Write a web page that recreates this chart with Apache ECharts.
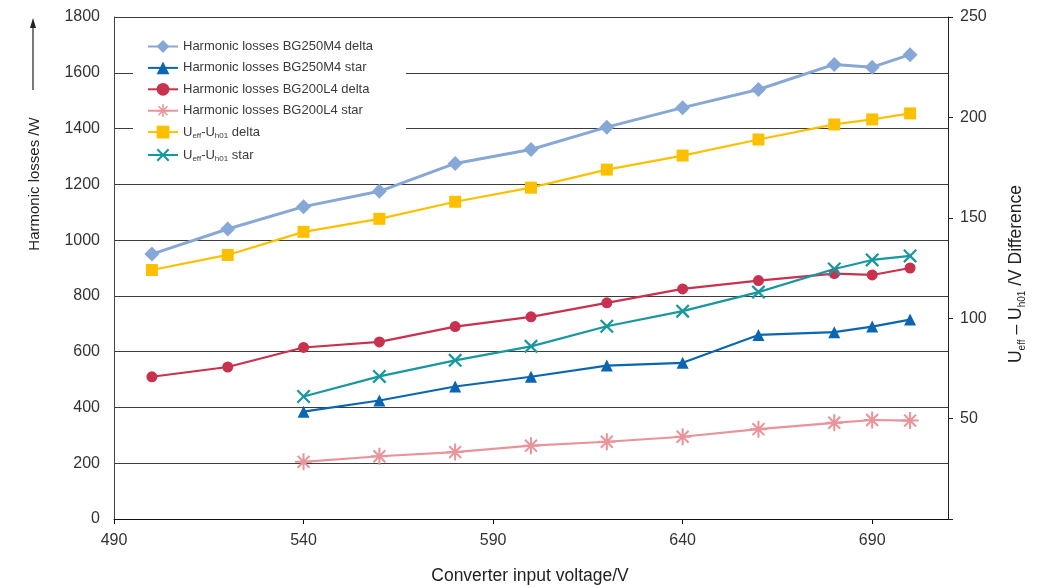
<!DOCTYPE html>
<html>
<head>
<meta charset="utf-8">
<script src="https://cdn.jsdelivr.net/npm/echarts@6/dist/echarts.min.js"></script>
<style>
  html, body { margin: 0; padding: 0; background: #fff; }
  #chart { width: 1040px; height: 588px; }
</style>
</head>
<body>
<div id="chart"></div>
<script>
// Converter input voltage (V) at which each curve was measured
const voltagesDelta = [500, 520, 540, 560, 580, 600, 620, 640, 660, 680, 690, 700];
const voltagesStar = [540, 560, 580, 600, 620, 640, 660, 680, 690, 700];

// Harmonic losses (W), left axis
const lossBG250M4Delta = [950, 1040, 1120, 1175, 1275, 1325, 1405, 1475, 1540, 1630, 1620, 1665];
const lossBG250M4Star = [385, 425, 475, 510, 550, 560, 660, 670, 690, 715];
const lossBG200L4Delta = [510, 545, 615, 635, 690, 725, 775, 825, 855, 880, 875, 900];
const lossBG200L4Star = [205, 225, 240, 263, 277, 295, 322, 345, 355, 353];

// Ueff - Uh01 difference (V), right axis
const uDiffDelta = [124, 131.5, 143, 149.5, 158, 165, 174, 181, 189, 196.5, 199, 202];
const uDiffStar = [61, 71, 79, 86, 96, 103.5, 113, 124.5, 129, 131];

// Axis ranges and steps
const xRange = [490, 710], xStep = 50;
const lossRange = [0, 1800], lossStep = 200;
const diffRange = [0, 250], diffStep = 50;

const seriesNames = [
  'Harmonic losses BG250M4 delta',
  'Harmonic losses BG250M4 star',
  'Harmonic losses BG200L4 delta',
  'Harmonic losses BG200L4 star',
  'Ueff-Uh01 delta',
  'Ueff-Uh01 star'
];

const FONT = '"Liberation Sans", Arial, Helvetica, sans-serif';
const TEXT = '#333';

const pairs = (xs, ys) => xs.map((x, i) => [x, ys[i]]);

// filled outline symbols built from thin bars
const ASTERISK = 'path://M-1.2,-10L1.2,-10L1.2,10L-1.2,10Z' +
  'M-10,-1.2L10,-1.2L10,1.2L-10,1.2Z' +
  'M-7.85,-6.15L-6.15,-7.85L7.85,6.15L6.15,7.85Z' +
  'M6.15,-7.85L7.85,-6.15L-6.15,7.85L-7.85,6.15Z';
const CROSS = 'path://M-7.9,-6.1L-6.1,-7.9L7.9,6.1L6.1,7.9Z' +
  'M6.1,-7.9L7.9,-6.1L-6.1,7.9L-7.9,6.1Z';

function lineSeries(name, xs, ys, color, symbol, size, width, yAxisIndex) {
  return {
    name, type: 'line', yAxisIndex,
    data: pairs(xs, ys),
    symbol, symbolSize: size, showSymbol: true,
    lineStyle: { color, width },
    itemStyle: { color },
    emphasis: { disabled: true },
    animation: false
  };
}

const chart = echarts.init(document.getElementById('chart'), null, { renderer: 'canvas' });

chart.setOption({
  backgroundColor: '#fff',
  animation: false,
  grid: { left: 114, right: 92, top: 17, bottom: 69, containLabel: false },
  xAxis: {
    type: 'value', min: xRange[0], max: xRange[1], interval: xStep,
    axisLine: { show: true, lineStyle: { color: '#111', width: 1 } },
    axisTick: { show: true, inside: false, length: 5, lineStyle: { color: '#111' } },
    axisLabel: {
      show: true, showMaxLabel: false, margin: 14, fontSize: 16, color: TEXT, fontFamily: FONT,
      formatter: v => String(v)
    },
    splitLine: { show: false }
  },
  yAxis: [
    {
      type: 'value', position: 'left', min: lossRange[0], max: lossRange[1], interval: lossStep,
      axisLine: { show: true, lineStyle: { color: '#444', width: 1 } },
      axisTick: { show: false },
      axisLabel: { margin: 14, fontSize: 16, color: TEXT, fontFamily: FONT, formatter: v => String(v) },
      splitLine: { show: true, lineStyle: { color: '#3c3c3c', width: 1 } }
    },
    {
      type: 'value', position: 'right', min: diffRange[0], max: diffRange[1], interval: diffStep,
      axisLine: { show: true, lineStyle: { color: '#222', width: 1 } },
      axisTick: { show: true, inside: false, length: 5, lineStyle: { color: '#222' } },
      axisLabel: {
        margin: 12, fontSize: 16, color: TEXT, fontFamily: FONT,
        formatter: v => (v === 0 ? '' : String(v))
      },
      splitLine: { show: false }
    }
  ],
  legend: {
    orient: 'vertical', left: 133, top: 32,
    padding: [8, 33, 8, 14],
    backgroundColor: '#fff',
    itemWidth: 30, itemHeight: 16, itemGap: 8.4,
    data: seriesNames,
    selectedMode: false,
    formatter: name => name.startsWith('Ueff')
      ? '{m|U}{s|eff}{m|-U}{s|h01}{m|' + name.slice(9) + '}'
      : '{m|' + name + '}',
    textStyle: {
      color: '#3a3a3a', fontSize: 13, fontFamily: FONT,
      rich: {
        m: { fontSize: 13, lineHeight: 16, color: '#3a3a3a', fontFamily: FONT },
        s: { fontSize: 8, lineHeight: 8, verticalAlign: 'bottom', color: '#3a3a3a', fontFamily: FONT }
      }
    }
  },
  series: [
    lineSeries(seriesNames[0], voltagesDelta, lossBG250M4Delta, '#87a8d6', 'diamond', 15, 3, 0),
    lineSeries(seriesNames[2], voltagesDelta, lossBG200L4Delta, '#c8324e', 'circle', 11, 2.2, 0),
    lineSeries(seriesNames[3], voltagesStar, lossBG200L4Star, '#e8949a', ASTERISK, 17, 2.2, 0),
    lineSeries(seriesNames[4], voltagesDelta, uDiffDelta, '#fcc000', 'rect', 12, 2.2, 1),
    lineSeries(seriesNames[5], voltagesStar, uDiffStar, '#17979f', CROSS, 14, 2.2, 1),
    lineSeries(seriesNames[1], voltagesStar, lossBG250M4Star, '#0b66b1', 'triangle', 12, 2.2, 0)
  ],
  graphic: [
    // upward arrow beside the left axis title
    { type: 'line', shape: { x1: 33, y1: 90, x2: 33, y2: 26 }, style: { stroke: '#222', lineWidth: 1.2 } },
    { type: 'polygon', shape: { points: [[33, 18], [30, 28], [36, 28]] }, style: { fill: '#222' } },
    {
      type: 'text', x: 35, y: 184, rotation: Math.PI / 2,
      style: {
        text: 'Harmonic losses /W', align: 'center', verticalAlign: 'middle',
        font: '15px ' + FONT, fill: '#222'
      }
    },
    {
      type: 'text', x: 1016, y: 274, rotation: Math.PI / 2,
      style: {
        text: '{m|U}{s|eff}{m| – U}{s|h01}{m| /V Difference}',
        align: 'center', verticalAlign: 'middle',
        rich: {
          m: { fontSize: 17.5, lineHeight: 22, fill: '#222', fontFamily: FONT },
          s: { fontSize: 10, lineHeight: 10, verticalAlign: 'bottom', fill: '#222', fontFamily: FONT }
        }
      }
    },
    {
      type: 'text', x: 530, y: 576,
      style: {
        text: 'Converter input voltage/V', align: 'center', verticalAlign: 'middle',
        font: '17.5px ' + FONT, fill: '#222'
      }
    }
  ]
});
</script>
</body>
</html>
